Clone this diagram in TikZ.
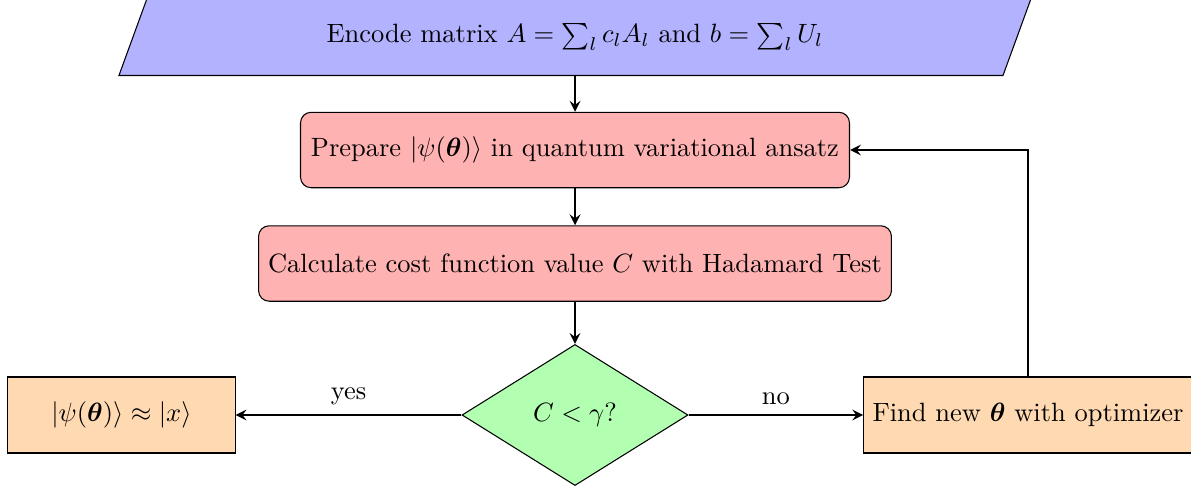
\documentclass[tikz,border=0pt]{standalone}
\usepackage{amsmath,bm}
\usetikzlibrary{shapes.geometric,arrows}
\begin{document}
\begin{tikzpicture}[x=0.3778pt,y=-0.3778pt,
  base/.style={draw,line width=0.4pt,text=black,font=\normalsize},
  io/.style={base,fill=blue!30},
  proc/.style={base,rounded corners,fill=red!30,minimum height=28.5pt},
  decis/.style={base,diamond,fill=green!30,minimum width=85.4pt,minimum height=53.3pt,inner sep=0pt},
  outbox/.style={base,fill=orange!30,minimum height=28.7pt},
  conn/.style={->,>=stealth,thick}]
\useasboundingbox (0,0) rectangle (1191,486);
\node[minimum width=333.6pt,minimum height=28.7pt,inner sep=0pt] (enc) at (575,37) {};
\draw[io] ([xshift=-5.3pt]enc.south west) -- ([xshift=-5.3pt]enc.south east) -- ([xshift=5.3pt]enc.north east) -- ([xshift=5.3pt]enc.north west) -- cycle;
\node at (enc.center) {Encode matrix $A=\sum_l c_l A_l$ and $b=\sum_l U_l$};
\node[proc,minimum width=207.4pt] (prep) at (575,150) {Prepare $|\psi(\bm{\theta})\rangle$ in quantum variational ansatz};
\node[proc,minimum width=239.1pt] (calc) at (575,263.5) {Calculate cost function value $C$ with Hadamard Test};
\node[decis] (dec) at (575,415) {$C<\gamma?$};
\node[outbox,minimum width=85.8pt] (res) at (121.5,415) {$|\psi(\bm{\theta})\rangle\approx|x\rangle$};
\node[outbox] (opt) at (1028,415) {Find new $\bm{\theta}$ with optimizer};
\draw[conn] (enc.south) -- (prep.north);
\draw[conn] (prep.south) -- (calc.north);
\draw[conn] (calc.south) -- (dec.north);
\draw[conn] (dec.west) -- node[above] {yes} (res.east);
\draw[conn] (dec.east) -- node[above] {no} (opt.west);
\draw[conn] (opt.north) |- (prep.east);
\end{tikzpicture}
\end{document}
